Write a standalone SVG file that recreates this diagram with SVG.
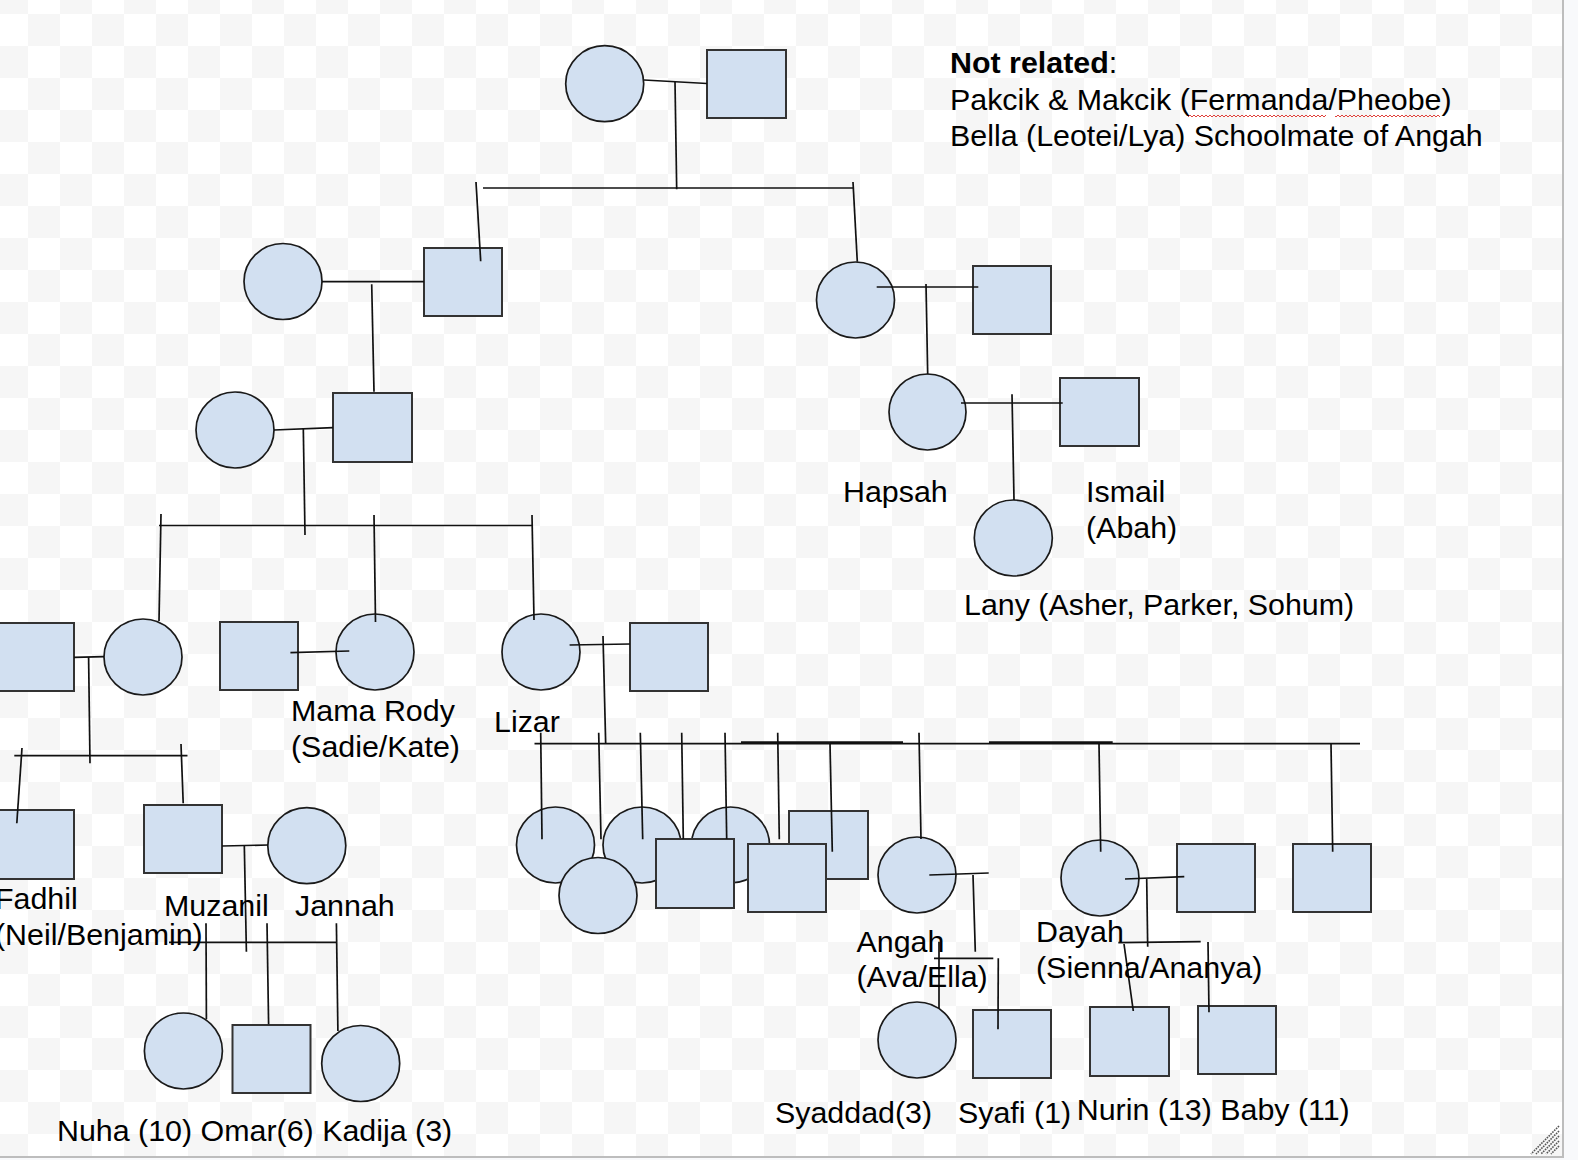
<svg xmlns="http://www.w3.org/2000/svg" width="1578" height="1160" viewBox="0 0 1578 1160">
<defs>
<pattern id="chk" x="-4" y="-18" width="64" height="64" patternUnits="userSpaceOnUse">
<rect width="64" height="64" fill="#ffffff"/>
<rect width="32" height="32" fill="#f6f6f6"/>
<rect x="32" y="32" width="32" height="32" fill="#f6f6f6"/>
</pattern>
<pattern id="wave" x="0" y="114" width="4" height="4" patternUnits="userSpaceOnUse">
<path d="M0 3 L2 1 L4 3" fill="none" stroke="#e0403a" stroke-width="1"/>
</pattern>
<style>
.f{fill:#d2e0f1;stroke:#1a1a1a;stroke-width:1.7}
.m{fill:#d2e0f1;stroke:#333333;stroke-width:2}
#connectors line{stroke:#111111;stroke-width:1.7;fill:none}
#connectors line.thick{stroke-width:2.6}
text{font-family:"Liberation Sans",Arial,sans-serif;font-size:30.4px;fill:#000000}
</style>
</defs>
<rect width="1578" height="1160" fill="#f8f9fb"/>
<rect x="0" y="0" width="1563" height="1157" fill="url(#chk)"/>

<g id="nodes">
<g id="n1"><ellipse class="f" cx="604.7" cy="83.7" rx="39" ry="38"/></g>
<g id="n2"><rect class="m" x="707" y="50" width="79" height="68"/></g>
<g id="n3"><ellipse class="f" cx="283" cy="281.5" rx="39" ry="38"/></g>
<g id="n4"><rect class="m" x="424" y="248" width="78" height="68"/></g>
<g id="n5"><ellipse class="f" cx="855.5" cy="300" rx="39" ry="38"/></g>
<g id="n6"><rect class="m" x="973" y="266" width="78" height="68"/></g>
<g id="n7"><ellipse class="f" cx="235" cy="430" rx="39" ry="38"/></g>
<g id="n8"><rect class="m" x="333" y="393" width="79" height="69"/></g>
<g id="hapsah"><ellipse class="f" cx="927.5" cy="412" rx="38.5" ry="38"/></g>
<g id="ismail"><rect class="m" x="1060" y="378" width="79" height="68"/></g>
<g id="lany"><ellipse class="f" cx="1013.3" cy="538" rx="39" ry="38"/></g>
<g id="n12"><rect class="m" x="-5" y="623" width="79" height="68"/></g>
<g id="n13"><ellipse class="f" cx="143" cy="657" rx="39" ry="38"/></g>
<g id="n14"><rect class="m" x="220" y="622" width="78" height="68"/></g>
<g id="mama-rody"><ellipse class="f" cx="375" cy="652" rx="39" ry="38"/></g>
<g id="lizar"><ellipse class="f" cx="541" cy="652" rx="39" ry="38"/></g>
<g id="n17"><rect class="m" x="630" y="623" width="78" height="68"/></g>
<g id="fadhil"><rect class="m" x="-4" y="810" width="78" height="69"/></g>
<g id="muzanil"><rect class="m" x="144" y="805" width="78" height="68"/></g>
<g id="jannah"><ellipse class="f" cx="306.8" cy="845.7" rx="39" ry="38"/></g>
<g id="nuha"><ellipse class="f" cx="183.4" cy="1051" rx="39" ry="38"/></g>
<g id="omar"><rect class="m" x="232.5" y="1025" width="78" height="68"/></g>
<g id="kadija"><ellipse class="f" cx="360.7" cy="1063.5" rx="39" ry="38"/></g>
<g id="c1"><ellipse class="f" cx="555.5" cy="845" rx="39" ry="38"/></g>
<g id="c2"><ellipse class="f" cx="642" cy="845" rx="39" ry="38"/></g>
<g id="c3"><ellipse class="f" cx="598" cy="895.5" rx="39" ry="38"/></g>
<g id="c4"><ellipse class="f" cx="730.5" cy="845" rx="39" ry="38"/></g>
<g id="c5"><rect class="m" x="656" y="839" width="78" height="69"/></g>
<g id="c6"><rect class="m" x="789" y="811" width="79" height="68"/></g>
<g id="c7"><rect class="m" x="748" y="844" width="78" height="68"/></g>
<g id="angah"><ellipse class="f" cx="917" cy="875" rx="39" ry="38"/></g>
<g id="dayah"><ellipse class="f" cx="1100" cy="878" rx="39" ry="38"/></g>
<g id="n33"><rect class="m" x="1177" y="844" width="78" height="68"/></g>
<g id="n34"><rect class="m" x="1293" y="844" width="78" height="68"/></g>
<g id="syaddad"><ellipse class="f" cx="917" cy="1040" rx="39" ry="38"/></g>
<g id="syafi"><rect class="m" x="973" y="1010" width="78" height="68"/></g>
<g id="nurin"><rect class="m" x="1090" y="1007" width="79" height="69"/></g>
<g id="baby"><rect class="m" x="1198" y="1006" width="78" height="68"/></g>
</g>

<g id="connectors">
<line x1="644" y1="80" x2="707" y2="83.5"/>
<line x1="675" y1="82" x2="676.7" y2="189.3"/>
<line x1="483" y1="188" x2="853.3" y2="188"/>
<line x1="476" y1="182" x2="480.7" y2="261.3"/>
<line x1="853" y1="182" x2="857.3" y2="261.7"/>
<line x1="322" y1="281.7" x2="424" y2="281.7"/>
<line x1="371.7" y1="284.3" x2="374" y2="391.7"/>
<line x1="274" y1="430" x2="333" y2="427.7"/>
<line x1="303.3" y1="428" x2="305" y2="535"/>
<line x1="159" y1="525.5" x2="532.3" y2="525.5"/>
<line x1="161" y1="514" x2="159" y2="621"/>
<line x1="374" y1="515" x2="375.5" y2="622"/>
<line x1="532" y1="515" x2="534" y2="620"/>
<line x1="876.7" y1="287" x2="978.3" y2="287"/>
<line x1="926" y1="284" x2="927.7" y2="374.3"/>
<line x1="961" y1="403" x2="1062.7" y2="403"/>
<line x1="1012" y1="394.3" x2="1014" y2="500"/>
<line x1="74" y1="657.3" x2="104" y2="656.7"/>
<line x1="88.6" y1="657" x2="90" y2="763.3"/>
<line x1="14.3" y1="755.7" x2="187.5" y2="755.7"/>
<line x1="22" y1="748" x2="16.8" y2="823.3"/>
<line x1="181" y1="744" x2="183.2" y2="803.3"/>
<line x1="290.4" y1="652.7" x2="349.3" y2="651"/>
<line x1="569.6" y1="645" x2="630" y2="644"/>
<line x1="603" y1="636" x2="605.7" y2="743.7"/>
<line x1="534.5" y1="743.7" x2="1360" y2="743.7"/>
<line class="thick" x1="741" y1="742.6" x2="903" y2="742.6"/>
<line class="thick" x1="989" y1="742.6" x2="1112.7" y2="742.6"/>
<line x1="540.7" y1="732.7" x2="542" y2="839.3"/>
<line x1="598.7" y1="732.7" x2="601" y2="839.3"/>
<line x1="640.3" y1="732.7" x2="642.7" y2="839.3"/>
<line x1="681.7" y1="732.7" x2="683.3" y2="839"/>
<line x1="725" y1="732.7" x2="726.7" y2="839"/>
<line x1="777.7" y1="732.7" x2="779.3" y2="839.3"/>
<line x1="830" y1="743.7" x2="832.3" y2="851.7"/>
<line x1="919" y1="732.7" x2="921" y2="839"/>
<line x1="1099" y1="743.7" x2="1100.7" y2="851.7"/>
<line x1="1331" y1="743.7" x2="1332.7" y2="851.7"/>
<line x1="222" y1="846" x2="268" y2="845"/>
<line x1="244.3" y1="845" x2="246.4" y2="951.7"/>
<line x1="169" y1="942.3" x2="336.8" y2="942.3"/>
<line x1="206" y1="923.3" x2="206.4" y2="1019.3"/>
<line x1="267" y1="923.3" x2="268.6" y2="1024.3"/>
<line x1="336.4" y1="923.3" x2="337.9" y2="1031"/>
<line x1="929.3" y1="875" x2="988.7" y2="873"/>
<line x1="973" y1="875" x2="975.3" y2="951.7"/>
<line x1="934" y1="958.3" x2="993.3" y2="958.3"/>
<line x1="939" y1="941.7" x2="939" y2="1008.3"/>
<line x1="998.3" y1="958.3" x2="998" y2="1029.3"/>
<line x1="1125" y1="879" x2="1184.3" y2="876.7"/>
<line x1="1146.7" y1="879" x2="1147.7" y2="946.7"/>
<line x1="1118.3" y1="942.7" x2="1200.7" y2="941.7"/>
<line x1="1124" y1="944" x2="1133.3" y2="1011"/>
<line x1="1208" y1="942" x2="1209" y2="1012.3"/>
</g>

<g id="labels">
<text x="950" y="73"><tspan font-weight="bold">Not related</tspan>:</text>
<text x="950" y="110">Pakcik &amp; Makcik (Fermanda/Pheobe)</text>
<text x="950" y="146">Bella (Leotei/Lya) Schoolmate of Angah</text>
<text x="843" y="502">Hapsah</text>
<text x="1086" y="502">Ismail</text>
<text x="1086" y="538">(Abah)</text>
<text x="964" y="615">Lany (Asher, Parker, Sohum)</text>
<text x="291" y="721">Mama Rody</text>
<text x="291" y="757">(Sadie/Kate)</text>
<text x="494" y="732">Lizar</text>
<text x="-5" y="909">Fadhil</text>
<text x="-5" y="945">(Neil/Benjamin)</text>
<text x="164" y="916">Muzanil</text>
<text x="295" y="916">Jannah</text>
<text x="57" y="1141">Nuha (10) Omar(6) Kadija (3)</text>
<text x="856.5" y="952">Angah</text>
<text x="856.5" y="987">(Ava/Ella)</text>
<text x="1036" y="942">Dayah</text>
<text x="1036" y="978">(Sienna/Ananya)</text>
<text x="775" y="1123">Syaddad(3)</text>
<text x="958" y="1123">Syafi (1)</text>
<text x="1076.7" y="1120">Nurin (13) Baby (11)</text>
</g>

<g id="spellcheck">
<rect x="1188" y="114" width="138" height="4" fill="url(#wave)"/>
<rect x="1335" y="114" width="105" height="4" fill="url(#wave)"/>
</g>

<g id="frame">
<line x1="0" y1="1157" x2="1563.5" y2="1157" stroke="#bdbdbd" stroke-width="2"/>
<line x1="1563" y1="0" x2="1563" y2="1158" stroke="#bdbdbd" stroke-width="2"/>
<g stroke="#555" stroke-width="1.6" stroke-dasharray="1.6 1">
<line x1="1559" y1="1126" x2="1531" y2="1154"/>
<line x1="1559" y1="1131" x2="1536" y2="1154"/>
<line x1="1559" y1="1136" x2="1541" y2="1154"/>
<line x1="1559" y1="1141" x2="1546" y2="1154"/>
<line x1="1559" y1="1146" x2="1551" y2="1154"/>
</g>
</g>
</svg>
